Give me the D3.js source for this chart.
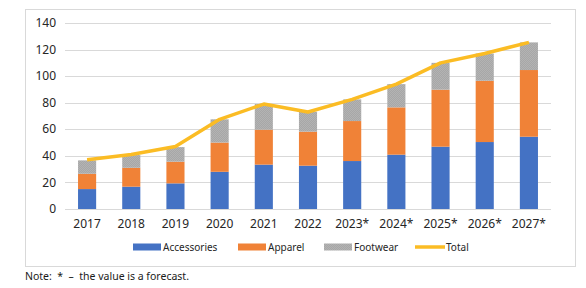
<!DOCTYPE html>
<html>
<head>
<meta charset="utf-8">
<script src="https://cdn.jsdelivr.net/npm/d3@7"></script>
<style>
  body { margin: 0; background: #fff; }
  svg { font-family: "Noto Sans", "Open Sans", sans-serif; }
</style>
</head>
<body>
<svg id="chart" width="586" height="288"></svg>
<script>
const years = ["2017", "2018", "2019", "2020", "2021", "2022", "2023*", "2024*", "2025*", "2026*", "2027*"];
const accessories = [15, 16.8, 19.3, 28, 33.4, 32.6, 36.1, 40.9, 46.9, 50.4, 54.4];
const apparel = [11.5, 14.2, 16.3, 22, 26.3, 25.6, 30.1, 35.6, 42.9, 46.1, 50.2];
const footwear = [10.1, 9.6, 11, 17.5, 19.3, 15, 16.3, 17.5, 20.2, 20.5, 20.8];
const total = [37, 41, 47, 67.5, 79, 73, 82.5, 94, 110, 117, 125.4];
const yTicks = [0, 20, 40, 60, 80, 100, 120, 140];

const svg = d3.select("#chart");

// textured fill for footwear
const defs = svg.append("defs");
const pat = defs.append("pattern")
  .attr("id", "fwPattern")
  .attr("width", 2).attr("height", 2)
  .attr("patternUnits", "userSpaceOnUse");
pat.append("rect").attr("width", 2).attr("height", 2).attr("fill", "#a7a7a7");
pat.append("rect").attr("width", 1).attr("height", 1).attr("fill", "#b3b3b3");
pat.append("rect").attr("x", 1).attr("y", 1).attr("width", 1).attr("height", 1).attr("fill", "#b3b3b3");

// outer frame
svg.append("rect")
  .attr("x", 25.5).attr("y", 9.5)
  .attr("width", 550).attr("height", 257)
  .attr("fill", "none")
  .attr("stroke", "#d9d9d9");

const x = d3.scaleBand().domain(years).range([65, 551]).paddingInner(0.59).paddingOuter(0.295);
const y = d3.scaleLinear().domain([0, 140]).range([209, 23]);

// gridlines
svg.append("g")
  .selectAll("line")
  .data(yTicks)
  .join("line")
  .attr("x1", 65).attr("x2", 551)
  .attr("y1", d => Math.round(y(d)) + 0.5)
  .attr("y2", d => Math.round(y(d)) + 0.5)
  .attr("stroke", "#d9d9d9");

svg.append("g")
  .selectAll("text")
  .data(yTicks)
  .join("text")
  .attr("x", 56)
  .attr("y", d => y(d))
  .attr("dy", "0.35em")
  .attr("text-anchor", "end")
  .attr("font-size", 12)
  .attr("fill", "#262626")
  .text(d => d);

// stacked bars
const rows = years.map((yr, i) => ({
  year: yr, Accessories: accessories[i], Apparel: apparel[i], Footwear: footwear[i]
}));
const keys = ["Accessories", "Apparel", "Footwear"];
const colors = { Accessories: "#4472c4", Apparel: "#f08237", Footwear: "url(#fwPattern)" };
const stacked = d3.stack().keys(keys)(rows);

svg.append("g")
  .selectAll("g")
  .data(stacked)
  .join("g")
  .attr("fill", d => colors[d.key])
  .selectAll("rect")
  .data(d => d)
  .join("rect")
  .attr("x", d => x(d.data.year))
  .attr("width", x.bandwidth())
  .attr("y", d => y(d[1]))
  .attr("height", d => y(d[0]) - y(d[1]));

// total line
const line = d3.line()
  .x((d, i) => x(years[i]) + x.bandwidth() / 2)
  .y(d => y(d));

svg.append("path")
  .datum(total)
  .attr("d", line)
  .attr("fill", "none")
  .attr("stroke", "#fbbc24")
  .attr("stroke-width", 3.5)
  .attr("stroke-linejoin", "round");

// x labels
svg.append("g")
  .selectAll("text")
  .data(years)
  .join("text")
  .attr("x", d => x(d) + x.bandwidth() / 2)
  .attr("y", 224)
  .attr("dy", "0.35em")
  .attr("text-anchor", "middle")
  .attr("font-size", 12)
  .attr("fill", "#262626")
  .text(d => d);

// legend
const legend = [
  { name: "Accessories", x: 133, type: "rect", fill: colors.Accessories },
  { name: "Apparel", x: 238, type: "rect", fill: colors.Apparel },
  { name: "Footwear", x: 324, type: "rect", fill: colors.Footwear },
  { name: "Total", x: 415, type: "line", fill: "#fbbc24" }
];
const lg = svg.append("g").selectAll("g").data(legend).join("g")
  .attr("transform", d => `translate(${d.x},247)`);
lg.filter(d => d.type === "rect").append("rect")
  .attr("x", 0).attr("y", -3.5).attr("width", 28).attr("height", 7)
  .attr("fill", d => d.fill);
lg.filter(d => d.type === "line").append("line")
  .attr("x1", 0).attr("x2", 30).attr("y1", 0).attr("y2", 0)
  .attr("stroke", d => d.fill).attr("stroke-width", 3.5);
lg.append("text")
  .attr("x", d => d.type === "line" ? 31 : 30)
  .attr("dy", "0.35em")
  .attr("font-size", 10)
  .attr("fill", "#262626")
  .text(d => d.name);

svg.append("text")
  .attr("x", 25).attr("y", 276)
  .attr("dy", "0.35em")
  .attr("font-size", 10.5)
  .attr("fill", "#1a1a1a")
  .attr("xml:space", "preserve")
  .style("white-space", "pre")
  .text("Note:  *  \u2013  the value is a forecast.");
</script>
</body>
</html>
